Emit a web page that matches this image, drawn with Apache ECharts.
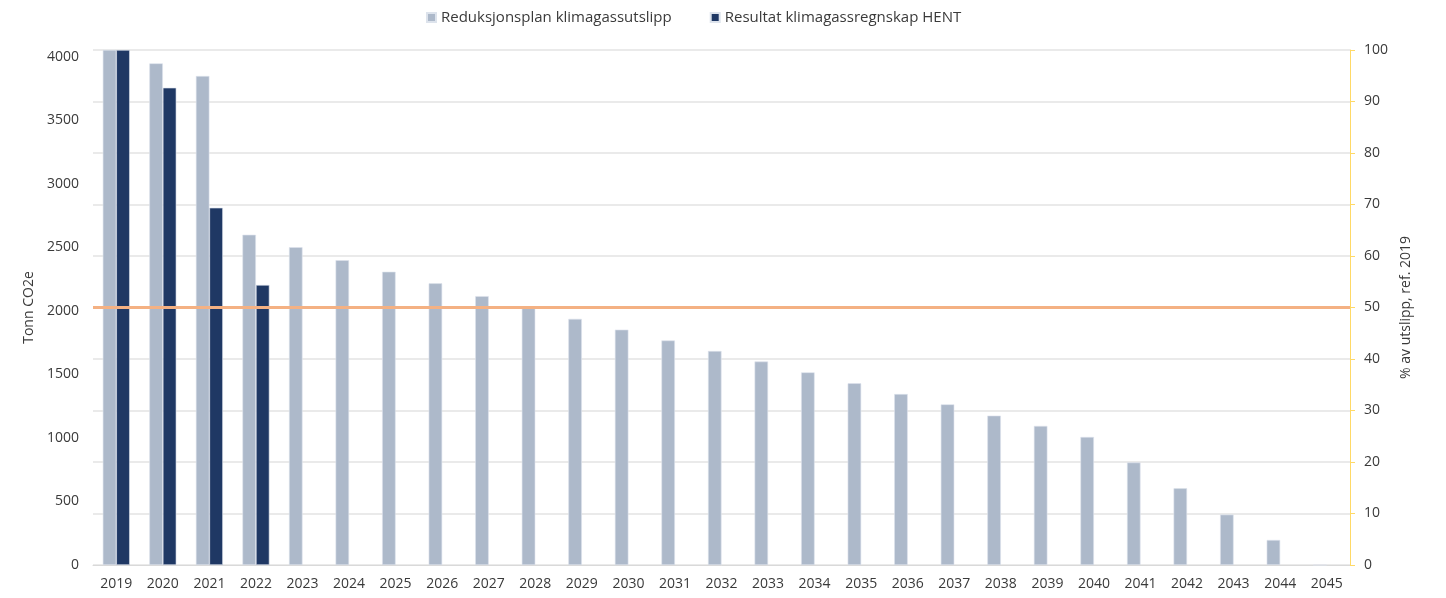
<!DOCTYPE html>
<html>
<head>
<meta charset="utf-8">
<script src="https://cdn.jsdelivr.net/npm/echarts@6/dist/echarts.min.js"></script>
<style>
  html, body { margin: 0; padding: 0; background: #fff; }
  #chart { width: 1446px; height: 598px; }
</style>
</head>
<body>
<div id="chart"></div>
<script>
const years = ['2019', '2020', '2021', '2022', '2023', '2024', '2025', '2026', '2027',
  '2028', '2029', '2030', '2031', '2032', '2033', '2034', '2035', '2036', '2037',
  '2038', '2039', '2040', '2041', '2042', '2043', '2044', '2045'];

// tonn CO2e
const plan = [4055, 3950, 3850, 2600, 2502, 2400, 2309, 2218, 2117, 2036, 1938, 1853,
  1768, 1685, 1602, 1517, 1431, 1346, 1265, 1176, 1095, 1008, 807, 604, 397, 197, 0];
const result = [4055, 3758, 2813, 2205, null, null, null, null, null, null, null, null,
  null, null, null, null, null, null, null, null, null, null, null, null, null, null, null];

const baseTonn = 4055;   // 2019 = 100 %
const targetPct = 50;

const txt = '#3a3a3a';
const font = 'Open Sans';

let chart = echarts.init(document.getElementById('chart'));

chart.setOption({
  textStyle: { fontFamily: font },
  animation: false,
  legend: {
    top: 5,
    left: 421,
    itemWidth: 9,
    itemHeight: 9,
    itemGap: 38,
    icon: 'rect',
    textStyle: { color: txt, fontSize: 15, fontFamily: font },
    data: ['Reduksjonsplan klimagassutslipp', 'Resultat klimagassregnskap HENT']
  },
  grid: { left: 93, right: 96, top: 50, bottom: 33, containLabel: false },
  xAxis: {
    type: 'category',
    data: years,
    axisLine: { lineStyle: { color: '#d9d9d9', width: 1 } },
    axisTick: { show: false },
    axisLabel: { color: txt, fontSize: 14, margin: 12 }
  },
  yAxis: [
    {
      type: 'value',
      min: 0,
      max: baseTonn,
      interval: 500,
      name: 'Tonn CO2e',
      nameLocation: 'middle',
      nameRotate: 90,
      nameGap: 54,
      nameTextStyle: { color: txt, fontSize: 14 },
      axisLine: { show: false },
      axisTick: { show: false },
      splitLine: { show: false },
      axisLabel: {
        color: txt, fontSize: 14, margin: 14,
        formatter: v => (v % 500 === 0 ? String(v) : '')
      }
    },
    {
      type: 'value',
      min: 0,
      max: 100,
      interval: 10,
      position: 'right',
      name: '% av utslipp, ref. 2019',
      nameLocation: 'middle',
      nameRotate: 90,
      nameGap: 48,
      nameTextStyle: { color: txt, fontSize: 14 },
      axisLine: { show: true, lineStyle: { color: '#ffd966', width: 1 } },
      axisTick: { show: true, length: 5, lineStyle: { color: '#ffd966' } },
      splitLine: { show: true, lineStyle: { color: '#e3e3e3', width: 1.5 } },
      axisLabel: { color: txt, fontSize: 14, margin: 14 }
    }
  ],
  series: [
    {
      name: 'Reduksjonsplan klimagassutslipp',
      type: 'bar',
      data: plan,
      barWidth: 13.5,
      barGap: '0%',
      itemStyle: { color: '#adb9ca', borderColor: '#dde3ec', borderWidth: 0.6 },
      markLine: {
        silent: true,
        symbol: 'none',
        label: { show: false },
        lineStyle: { color: '#f4b183', width: 3, type: 'solid' },
        data: [{ yAxis: targetPct / 100 * baseTonn }]
      }
    },
    {
      name: 'Resultat klimagassregnskap HENT',
      type: 'bar',
      data: result,
      barWidth: 13.5,
      barGap: '0%',
      itemStyle: { color: '#1f3864', borderColor: '#dde3ec', borderWidth: 0.6 }
    }
  ]
});
</script>
</body>
</html>
